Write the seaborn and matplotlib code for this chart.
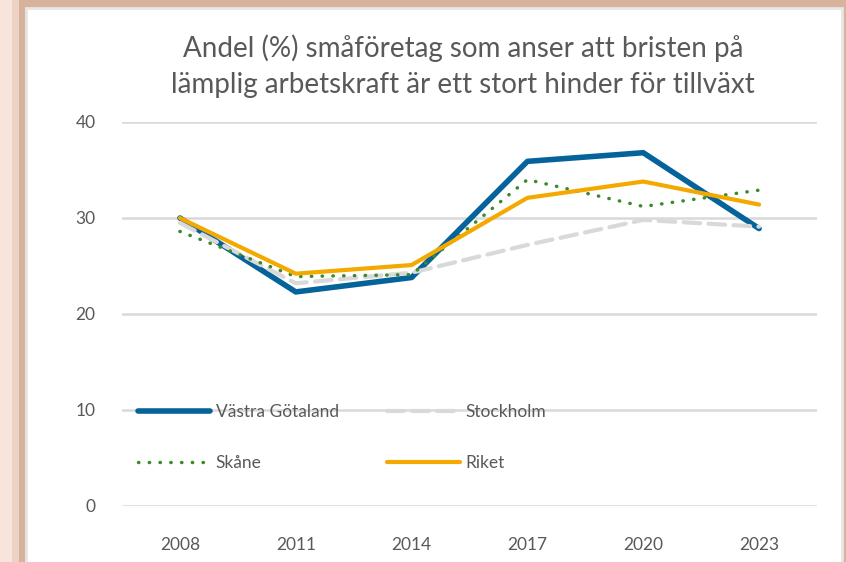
import matplotlib
matplotlib.use("Agg")
import numpy as np
import pandas as pd
import seaborn as sns
from matplotlib import pyplot as plt
from matplotlib.patches import Rectangle

years = ["2008", "2011", "2014", "2017", "2020", "2023"]
series_names = ["Västra Götaland", "Stockholm", "Skåne", "Riket"]
vastra_gotaland = [30.0, 22.3, 23.8, 35.9, 36.8, 28.9]
stockholm = [29.5, 23.2, 24.3, 27.2, 29.8, 29.1]
skane = [28.6, 23.9, 24.1, 34.0, 31.2, 32.9]
riket = [30.0, 24.2, 25.1, 32.1, 33.8, 31.4]

title = "Andel (%) småföretag som anser att bristen på\nlämplig arbetskraft är ett stort hinder för tillväxt"

df = pd.DataFrame({
    "year": years * 4,
    "region": np.repeat(series_names, len(years)),
    "value": vastra_gotaland + stockholm + skane + riket,
})

sns.set_style("white")
plt.rcParams["font.family"] = ["Lato", "DejaVu Sans"]

palette = {
    "Västra Götaland": "#05639b",
    "Stockholm": "#d9d9d9",
    "Skåne": "#3b8a2b",
    "Riket": "#f4a900",
}
dashes = {
    "Västra Götaland": "",
    "Stockholm": (4, 2),
    "Skåne": (0.1, 3.0),
    "Riket": "",
}
widths = {"Västra Götaland": 4.0, "Stockholm": 3.0, "Skåne": 2.5, "Riket": 3.0}

W, H = 846, 562
fig = plt.figure(figsize=(W / 100, H / 100), dpi=100)
fig.patch.set_facecolor("#f7e5db")
# soft brown shadow behind the white chart panel
fig.patches.append(Rectangle((12 / W, -0.1), 1, 1.1, transform=fig.transFigure,
                             facecolor="#ecd3c4", edgecolor="none", zorder=-3))
fig.patches.append(Rectangle((19 / W, -0.1), 1, 1.1, transform=fig.transFigure,
                             facecolor="#d7b39d", edgecolor="none", zorder=-2))
fig.patches.append(Rectangle((26 / W, -0.1), 816 / W, 1.1 - 8 / H,
                             transform=fig.transFigure, facecolor="white",
                             edgecolor="#e6e6e6", linewidth=2, zorder=-1))

ax = fig.add_axes([122 / W, 1 - 506 / H, 695 / W, 384 / H])
ax.set_facecolor("none")

sns.lineplot(data=df, x="year", y="value", hue="region", style="region",
             palette=palette, dashes=dashes, sort=False, ax=ax, legend=False)
lines = {}
for line, name in zip(ax.get_lines(), series_names):
    line.set_linewidth(widths[name])
    line.set_solid_capstyle("round")
    line.set_dash_capstyle("round")
    lines[name] = line

ax.set_xlim(-0.5, 5.5)
ax.set_ylim(0, 40)
ax.set_yticks([0, 10, 20, 30, 40])
ax.yaxis.grid(True, color="#d9d9d9", linewidth=1.8)
ax.set_axisbelow(True)
for s in ax.spines.values():
    s.set_visible(False)
ax.tick_params(axis="both", length=0, labelsize=12.5, colors="#595959")
ax.tick_params(axis="y", pad=19)
ax.tick_params(axis="x", pad=22)
ax.set_xlabel("")
ax.set_ylabel("")

fig.text(0.547, 1 - 66 / H, title, ha="center", va="center",
         fontsize=20, color="#595959", linespacing=1.5)

# legend filled column-wise, so order gives rows: VG/Sthlm, Skåne/Riket
order = ["Västra Götaland", "Skåne", "Stockholm", "Riket"]
ax.legend([lines[n] for n in order], order, ncol=2, loc="upper left",
          bbox_to_anchor=(0.010, 0.288), frameon=False, fontsize=12.5,
          handlelength=4.15, handletextpad=0.35, columnspacing=2.8,
          labelspacing=2.0, borderpad=0, labelcolor="#595959")

fig.savefig("out.png", dpi=100)
